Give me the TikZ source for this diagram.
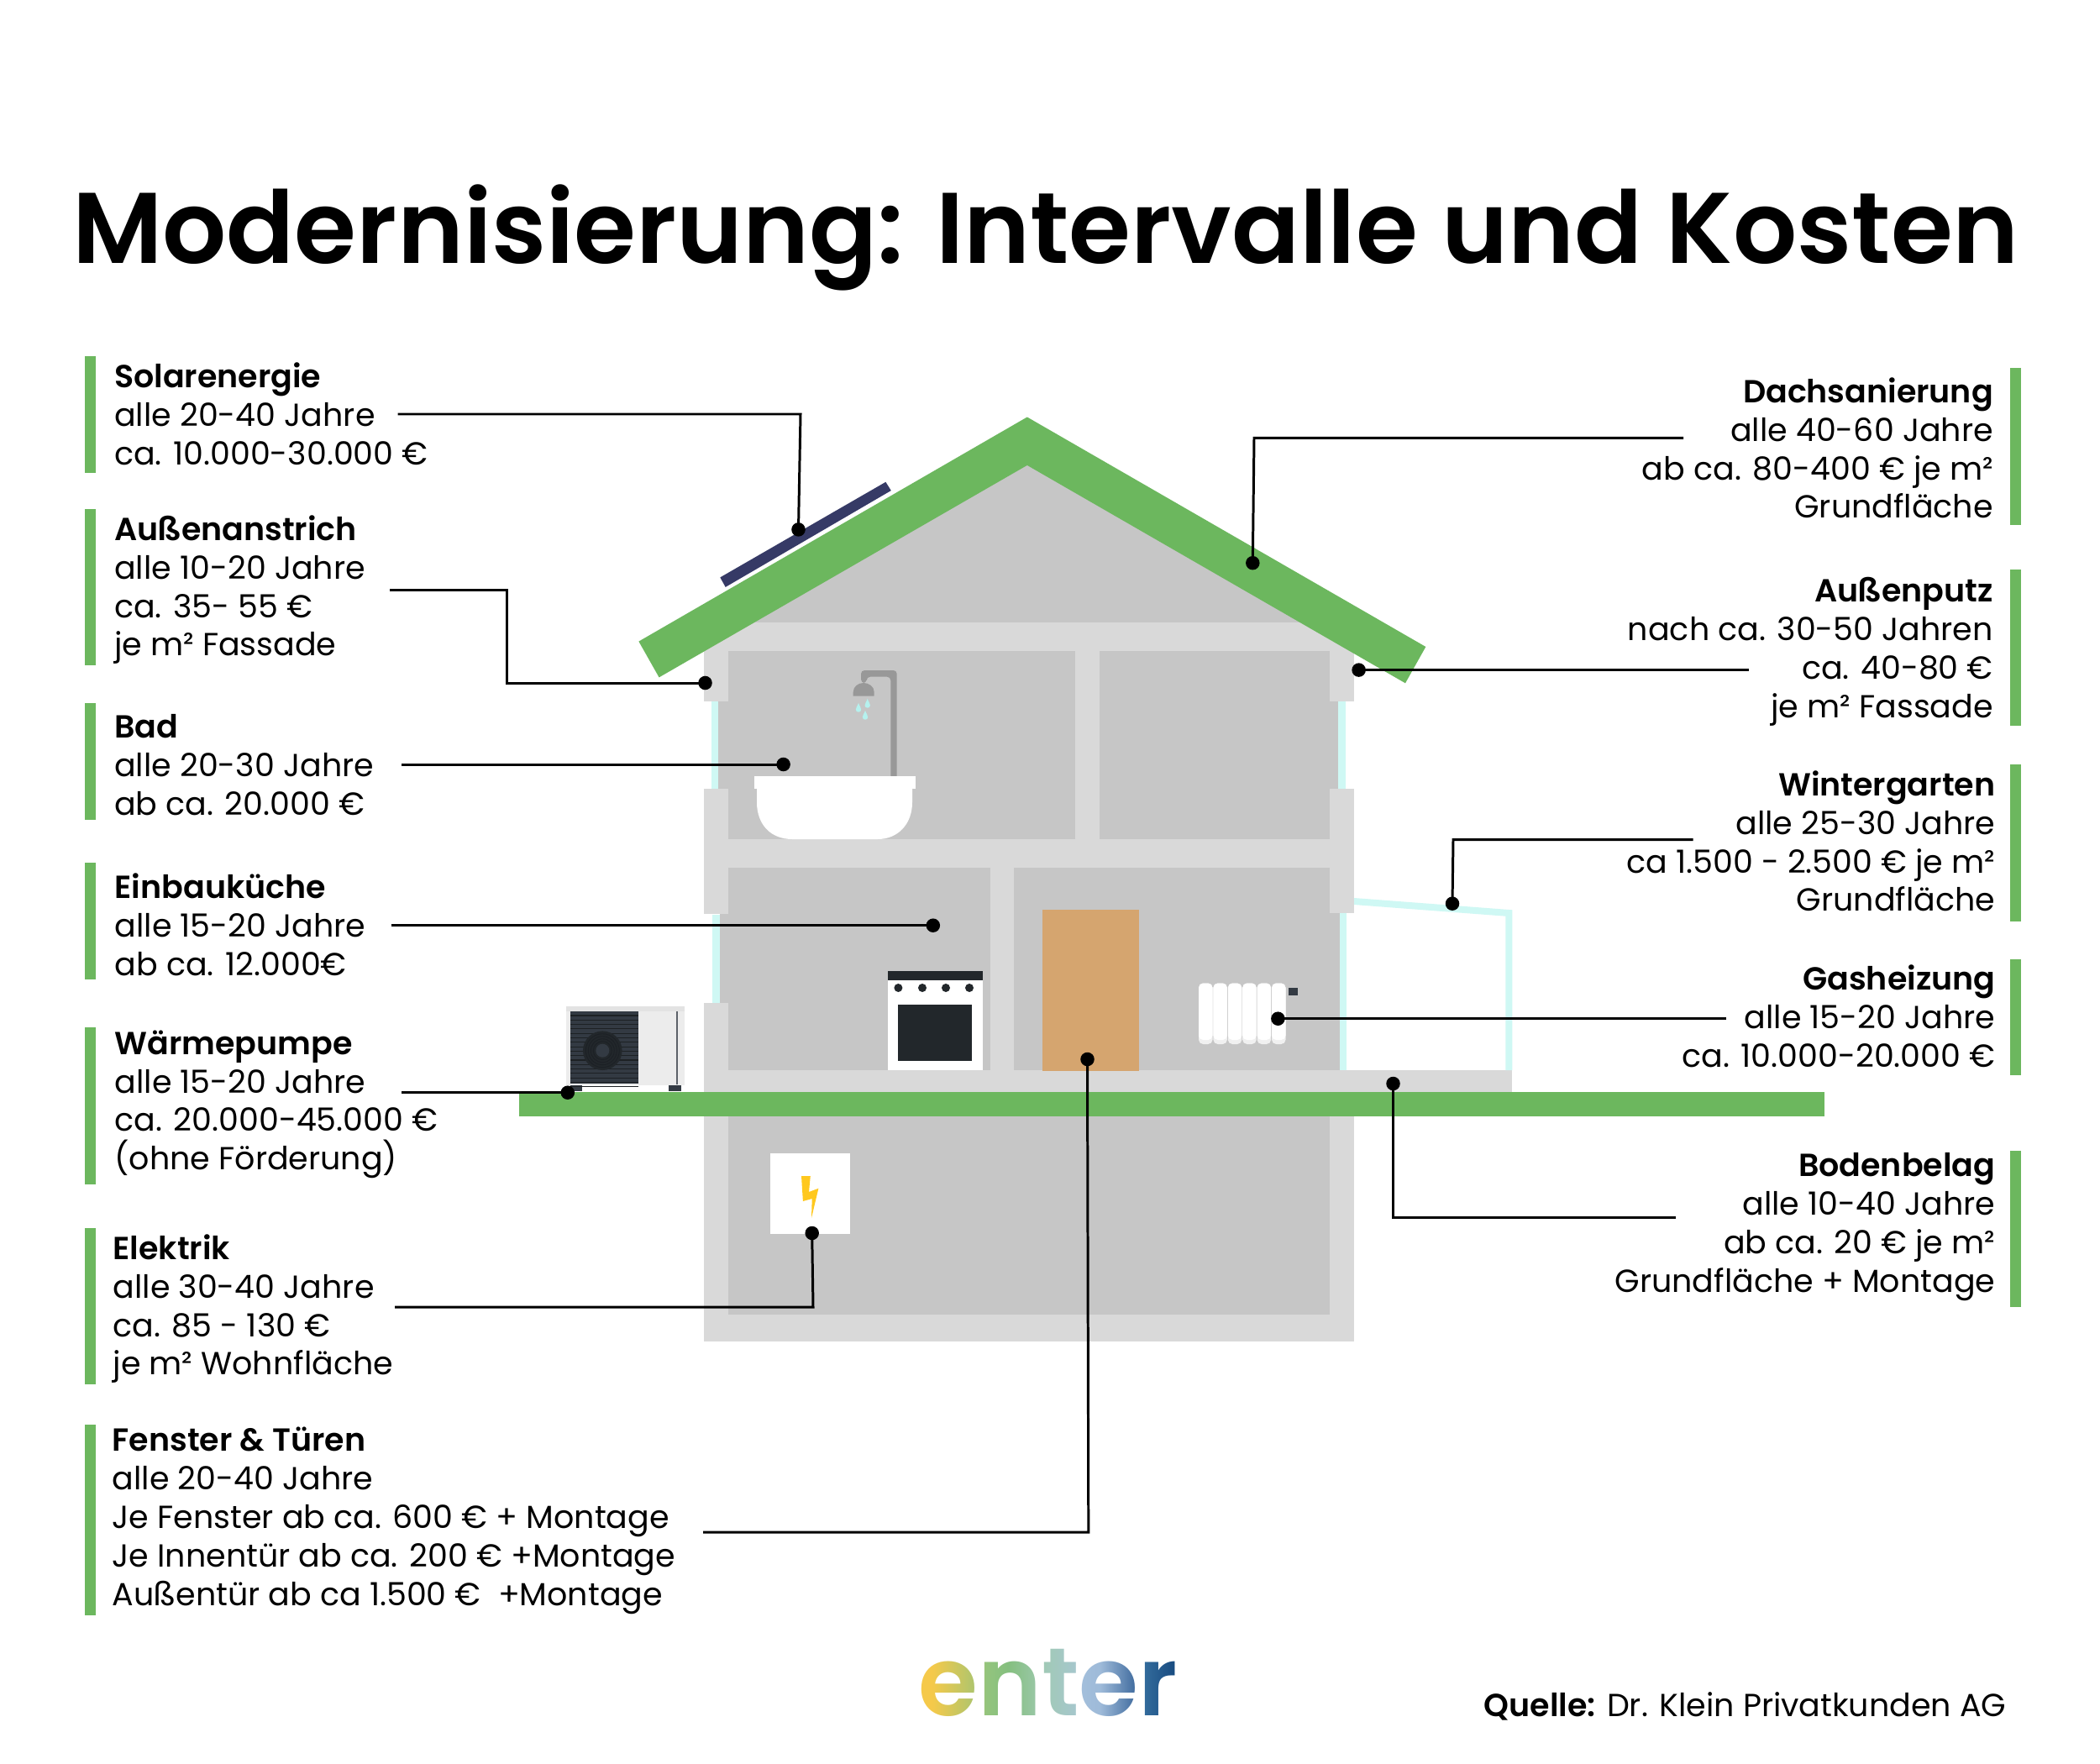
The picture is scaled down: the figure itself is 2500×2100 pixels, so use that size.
\documentclass[tikz,border=0pt]{standalone}
\usepackage{fontspec}
\setmainfont{Poppins}[BoldFont={Poppins SemiBold}]
\usetikzlibrary{fadings,shadings}
\definecolor{grn}{HTML}{6CB75E}
\definecolor{lgrey}{HTML}{D9D9D9}
\definecolor{dgrey}{HTML}{C6C6C6}
\definecolor{cyn}{HTML}{CFF8F4}
\definecolor{panel}{HTML}{333A43}
\definecolor{ink}{HTML}{22272B}
\definecolor{pipe}{HTML}{989898}
\definecolor{navy}{HTML}{363A66}
\definecolor{doorc}{HTML}{D5A56F}
\definecolor{bolt}{HTML}{FFC81E}
\definecolor{dropc}{HTML}{B5F1EE}
\pgfdeclarehorizontalshading{enterlogo}{100bp}{
 rgb(0bp)=(0.96,0.79,0.29);
 rgb(26.5bp)=(0.96,0.79,0.29);
 rgb(28.8bp)=(0.96,0.79,0.29);
 rgb(37.2bp)=(0.66,0.77,0.44);
 rgb(38.7bp)=(0.58,0.77,0.49);
 rgb(42.7bp)=(0.52,0.75,0.50);
 rgb(47.9bp)=(0.60,0.78,0.65);
 rgb(49bp)=(0.63,0.79,0.71);
 rgb(55bp)=(0.65,0.78,0.80);
 rgb(55.8bp)=(0.64,0.75,0.86);
 rgb(59.6bp)=(0.62,0.73,0.85);
 rgb(66.1bp)=(0.25,0.42,0.62);
 rgb(67.6bp)=(0.20,0.42,0.61);
 rgb(73.5bp)=(0.09,0.29,0.50);
 rgb(100bp)=(0.09,0.29,0.50)}
\begin{tikzfadingfrompicture}[name=enterfade]
\node[text=transparent!0,inner sep=0pt] at (0,0) {\fontsize{32.6}{35}\bfseries enter};
\end{tikzfadingfrompicture}
\tikzset{
 lbl/.style={inner sep=0pt,font=\fontsize{10.8}{13.03}\selectfont,text=black},
 lleft/.style={lbl,anchor=north west,align=left},
 lright/.style={lbl,anchor=north east,align=right},
 bar/.style={fill=grn},
 conn/.style={draw=black,line width=0.85pt},
 dot/.style={circle,fill=black,inner sep=0pt,minimum size=4.7pt},
}
\begin{document}
\begin{tikzpicture}[x=0.01cm,y=-0.01cm]
\useasboundingbox[fill=white] (0,0) rectangle (2500,2100);
% title
\node[inner sep=0pt,anchor=base] (title) at (1245,314) {\fontsize{34}{36}\selectfont\bfseries Modernisierung: Intervalle und Kosten};
% house structure
\fill[dgrey] (1222.8,545) -- (1560,741) -- (885,741) -- cycle;
\fill[lgrey] (838,741) rectangle (1612,1088);
\fill[lgrey] (838,1088) rectangle (1583,1300);
\fill[lgrey] (838,1274) rectangle (1800,1300);
\fill[white] (838,835) rectangle (855,939);
\fill[white] (1593,835) rectangle (1612,939);
\fill[white] (838,1088) rectangle (857,1193.5);
\fill[white] (1583,1087) rectangle (1612,1274);
\fill[dgrey] (867,775) rectangle (1280,999);
\fill[dgrey] (1309,775) rectangle (1583,999);
\fill[dgrey] (867,1033) rectangle (1179,1274);
\fill[dgrey] (1207,1033) rectangle (1583,1274);
\fill[dgrey] (855,835) rectangle (867,939);
\fill[dgrey] (1583,835) rectangle (1593,939);
\fill[dgrey] (857,1088) rectangle (867,1193.5);
\fill[dgrey] (1583,1087) rectangle (1595,1274);
\fill[cyn] (846.5,835) rectangle (855,939);
\fill[cyn] (1593,835) rectangle (1602,939);
\fill[cyn] (848,1088.6) rectangle (857,1193.5);
\fill[cyn] (1594.6,1087) rectangle (1603,1274);
% winter garden
\fill[cyn] (1612,1069) -- (1800.4,1083.3) -- (1800.4,1274) -- (1792.4,1274) -- (1792.4,1090.7) -- (1612,1077) -- cycle;
% basement
\fill[lgrey] (838,1329) rectangle (1612,1597);
\fill[dgrey] (867,1329) rectangle (1583,1565);
% roof and solar
\fill[grn] (1222.8,496.5) -- (1697.3,770) -- (1673,813.3) -- (1222.8,553.9) -- (784.6,806.4) -- (760.4,763.6) -- cycle;
\fill[navy] (1054.4,573.8) -- (1060.8,584) -- (863.7,698.9) -- (857.3,687.4) -- cycle;
% ground
\fill[grn] (618,1299.5) rectangle (2172,1329.4);
% shower
\fill[pipe,rounded corners=1.2pt] (1025,813) -- (1025,798) -- (1067.7,798) -- (1067.7,930) -- (1060.3,930) -- (1060.3,805.7) -- (1031.7,805.7) -- (1031.7,813) -- cycle;
\fill[pipe] (1015.7,828.7) -- (1015.7,824) .. controls (1015.7,817) and (1022,813) .. (1028,813) .. controls (1034,813) and (1040.7,817) .. (1040.7,824) -- (1040.7,828.7) -- cycle;
\foreach \dx/\dy in {1022/842.7,1032.7/837.7,1030/851.7}{
 \fill[dropc] (\dx,\dy-6) .. controls (\dx+1,\dy-2) and (\dx+3.2,\dy-1) .. (\dx+3.2,\dy+2) .. controls (\dx+3.2,\dy+6) and (\dx-3.2,\dy+6) .. (\dx-3.2,\dy+2) .. controls (\dx-3.2,\dy-1) and (\dx-1,\dy-2) .. (\dx,\dy-6) -- cycle;
}
% bathtub
\fill[white] (897.5,924) rectangle (1090,938.5);
\fill[white] (901,938) -- (901,955) .. controls (901,982) and (918,999) .. (943,999) -- (1045,999) .. controls (1068,999) and (1086,982) .. (1086,955) -- (1086,938) -- cycle;
% oven
\fill[white] (1057,1156) rectangle (1170,1274);
\fill[ink] (1057,1156) rectangle (1170,1167);
\fill[ink] (1069,1196) rectangle (1157,1263);
\foreach \kx in {1069.4,1098,1126,1154}{\fill[ink] (\kx,1176) circle[radius=5];}
% door
\fill[doorc] (1241,1083) rectangle (1356,1275);
% radiator
\foreach \k in {0,...,5}{
 \fill[gray!12!white,rounded corners=1.5pt] (1427+\k*17.4,1170.5) rectangle (1443.5+\k*17.4,1243);
 \fill[white,rounded corners=1.5pt] (1427+\k*17.4,1170.5) rectangle (1443.5+\k*17.4,1238);
}
\fill[panel] (1534,1175.5) rectangle (1544.5,1185);
% heat pump
\fill[gray!15!white] (674,1197.7) rectangle (815,1291.7);
\fill[gray!22!white] (674,1197.7) rectangle (815,1203.7);
\fill[panel] (679,1291.7) rectangle (693.3,1299);
\fill[panel] (796,1291.7) rectangle (810.7,1299);
\fill[panel] (679,1203.7) rectangle (760,1290);
\foreach \s in {0,...,16}{\draw[ink!85!black,line width=0.3pt] (679,1209+\s*5.3) -- (760,1209+\s*5.3);}
\fill[ink] (717.3,1250.7) circle[radius=23.3];
\foreach \r in {11,14,17,20}{\draw[black!45!panel,line width=0.25pt] (717.3,1250.7) circle[radius=\r];}
\fill[panel] (717.3,1250.7) circle[radius=8];
\draw[panel!80!white,line width=0.5pt] (806,1203.7) -- (806,1291);
% electric box
\fill[white] (917,1373) rectangle (1012,1468.7);
\fill[bolt] (954,1400) -- (964.8,1400) -- (963,1419) -- (974.4,1414.7) -- (966,1450) -- (966.7,1427) -- (955.9,1430) -- cycle;
% side bars
\foreach \a/\b in {424/563,606/792,837/976,1027/1166,1223/1410,1462/1648,1696/1923}{\fill[bar] (101,\a) rectangle (114,\b);}
\foreach \a/\b in {438/625,678/864,910/1097,1142/1280,1370/1556}{\fill[bar] (2393,\a) rectangle (2406,\b);}
% left labels
\node[lleft] (solar) at (135.5,431) {\textbf{Solarenergie}\\alle 20-40 Jahre\\ca. 10.000-30.000 €};
\node[lleft] (anstrich) at (135.5,613) {\textbf{Außenanstrich}\\alle 10-20 Jahre\\ca. 35- 55 €\\je m² Fassade};
\node[lleft] (bad) at (135.5,850) {\textbf{Bad}\\alle 20-30 Jahre\\ab ca. 20.000 €};
\node[lleft] (kueche) at (136,1039) {\textbf{Einbauküche}\\alle 15-20 Jahre\\ab ca. 12.000€};
\node[lleft] (pumpe) at (136,1226) {\textbf{Wärmepumpe}\\alle 15-20 Jahre\\ca. 20.000-45.000 €\\(ohne Förderung)};
\node[lleft] (elektrik) at (134,1469) {\textbf{Elektrik}\\alle 30-40 Jahre\\ca. 85 - 130 €\\je m² Wohnfläche};
\node[lleft] (fenster) at (133,1698.5) {\textbf{Fenster \& Türen}\\alle 20-40 Jahre\\Je Fenster ab ca. 600 € + Montage\\Je Innentür ab ca. 200 € +Montage\\Außentür ab ca 1.500 €\ \ +Montage};
% right labels
\node[lright] (dach) at (2373.5,449) {\textbf{Dachsanierung}\\alle 40-60 Jahre\\ab ca. 80-400 € je m²\\Grundfläche};
\node[lright] (putz) at (2373.5,687) {\textbf{Außenputz}\\nach ca. 30-50 Jahren\\ca. 40-80 €\\je m² Fassade};
\node[lright] (winter) at (2376,917) {\textbf{Wintergarten}\\alle 25-30 Jahre\\ca 1.500 - 2.500 € je m²\\Grundfläche};
\node[lright] (gas) at (2376,1148) {\textbf{Gasheizung}\\alle 15-20 Jahre\\ca. 10.000-20.000 €};
\node[lright] (boden) at (2376,1372) {\textbf{Bodenbelag}\\alle 10-40 Jahre\\ab ca. 20 € je m²\\Grundfläche + Montage};
% dots
\node[dot] (dsolar) at (950.5,630.4) {};
\node[dot] (dan) at (839.5,813) {};
\node[dot] (dbad) at (932.6,910) {};
\node[dot] (dku) at (1110.8,1101.7) {};
\node[dot] (dpu) at (675.8,1300.7) {};
\node[dot] (del) at (966.7,1468) {};
\node[dot] (dfe) at (1294.5,1261) {};
\node[dot] (dda) at (1491.3,670.2) {};
\node[dot] (dpz) at (1617.6,797.6) {};
\node[dot] (dwi) at (1729,1075.7) {};
\node[dot] (dga) at (1521.4,1212.7) {};
\node[dot] (dbo) at (1658.5,1290) {};
% free ends
\coordinate (csolar) at (473.5,493);
\coordinate (can) at (464,702);
\coordinate (cbad) at (478,910);
\coordinate (cku) at (465.5,1101.7);
\coordinate (cpu) at (478,1300.7);
\coordinate (cel) at (470,1556);
\coordinate (cfe) at (837,1824);
\coordinate (cda) at (2004,521.3);
\coordinate (cpz) at (2082,797.6);
\coordinate (cwi) at (2015.6,999.5);
\coordinate (cga) at (2055,1212.7);
\coordinate (cbo) at (1994.5,1449);
% connectors
\draw[conn] (csolar) -- (953,493) -- (dsolar.center);
\draw[conn] (can) -- (603.5,702) -- (603.5,813) -- (dan.center);
\draw[conn] (cbad) -- (dbad.center);
\draw[conn] (cku) -- (dku.center);
\draw[conn] (cpu) -- (dpu.center);
\draw[conn] (cel) -- (968,1556) -- (del.center);
\draw[conn] (cfe) -- (1295.8,1824) -- (dfe.center);
\draw[conn] (cda) -- (1493,521.3) -- (dda.center);
\draw[conn] (cpz) -- (dpz.center);
\draw[conn] (cwi) -- (1730,999.5) -- (dwi.center);
\draw[conn] (cga) -- (dga.center);
\draw[conn] (cbo) -- (1658.5,1449) -- (dbo.center);
% logo
\shade[shading=enterlogo,path fading=enterfade,fit fading=false,fading transform={shift={(1248,2003)}}] (1085,1930) rectangle (1410,2070);
% source
\node[lbl,anchor=base east] (quelle) at (2389,2043) {\textbf{Quelle:} Dr. Klein Privatkunden AG};
\end{tikzpicture}
\end{document}
